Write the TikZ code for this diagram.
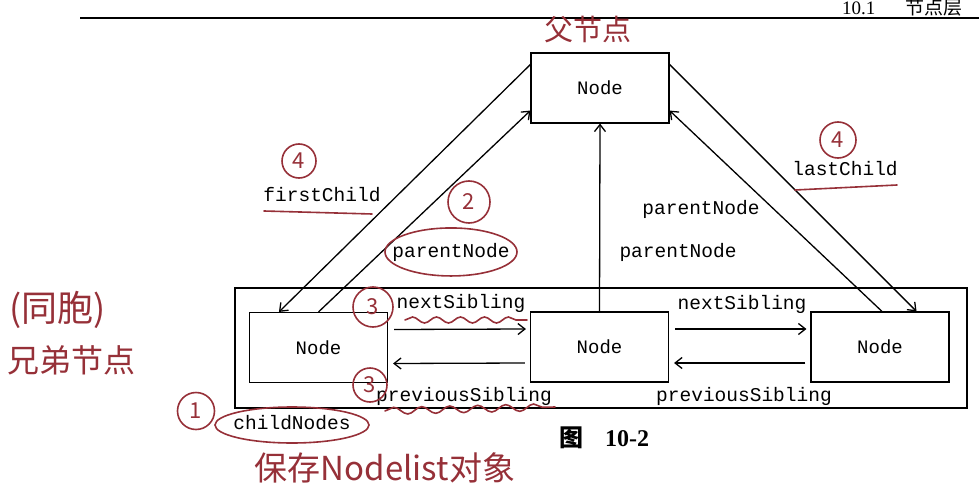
\documentclass[tikz,border=0pt]{standalone}
\usepackage{fontspec}
\setmainfont{Liberation Serif}
\setmonofont{Liberation Mono}
\newfontfamily\cjk{Noto Sans CJK SC}
\usetikzlibrary{arrows.meta,decorations.pathmorphing}
\definecolor{inkred}{RGB}{150,48,56}
\tikzset{
    nodebox/.style={draw,line width=1.1pt,minimum width=138pt,minimum height=70pt,font=\ttfamily\fontsize{19}{22}\selectfont},
    lbl/.style={anchor=base,inner sep=0pt,font=\ttfamily\fontsize{19.5}{22}\selectfont},
    link/.style={line width=1.3pt,-{Straight Barb[length=7pt,width=11pt]}},
    pen/.style={draw=inkred,line width=1.6pt,line cap=round},
    hand/.style={text=inkred,inner sep=0pt},
    numcirc/.style={circle,pen,text=inkred,minimum size=34pt,inner sep=0pt,font=\cjk\fontsize{22}{24}\selectfont}
}
\begin{document}
\begin{tikzpicture}[x=1pt,y=-1pt]
                \useasboundingbox (0,0) rectangle (979,500);
                \draw[line width=1.3pt] (80,18) -- (979,18);
                \node[anchor=base west,inner sep=0pt,font=\fontsize{19}{21}\selectfont] (hdr) at (842,15) {10.1\hspace{30pt}{\cjk 节点层}};
                \node[nodebox] (top) at (600,88) {Node};
                \node[nodebox] (left) at (318.5,347.5) {Node};
                \node[nodebox] (mid) at (599.5,347) {Node};
                \node[nodebox] (right) at (880,347) {Node};
                \draw[line width=2pt] (235,288) rectangle (967,408);
                \draw[link] ([yshift=-12pt]top.north west) -- ([xshift=30pt]left.north west);
                \draw[link] (left.north) -- ([yshift=13pt]top.south west);
                \draw[link] ([yshift=-12pt]top.north east) -- ([xshift=-33pt]right.north east);
                \draw[link] ([xshift=2pt]right.north) -- ([yshift=13pt]top.south east);
                \draw[link] (mid.north) -- (top.south);
                \draw[link] ([shift={(6pt,18pt)}]left.east) -- ([shift={(-4pt,18pt)}]mid.west);
                \draw[link] ([shift={(-5pt,-16pt)}]mid.west) -- ([shift={(5pt,-16pt)}]left.east);
                \draw[link] ([shift={(6pt,18pt)}]mid.east) -- ([shift={(-4pt,18pt)}]right.west);
                \draw[link] ([shift={(-5pt,-16pt)}]right.west) -- ([shift={(5pt,-16pt)}]mid.east);
                \node[lbl] (fc) at (322,201) {firstChild};
                \node[lbl] (pnl) at (451,257) {parentNode};
                \node[lbl] (pnr) at (701,214) {parentNode};
                \node[lbl] (pnm) at (678,257) {parentNode};
                \node[lbl] (lc) at (845,175) {lastChild};
                \node[lbl] (nsl) at (461,308) {nextSibling};
                \node[lbl] (nsr) at (742,309) {nextSibling};
                \node[lbl] (psl) at (464,401) {previousSibling};
                \node[lbl] (psr) at (744,401) {previousSibling};
                \node[lbl] (cn) at (292,429) {childNodes};
                \node[font=\bfseries\fontsize{24}{26}\selectfont] (cap) at (604,438) {{\cjk 图}\hspace{22pt}10-2};
                \node[hand,font=\cjk\fontsize{29}{31}\selectfont] (fu) at (588,30) {父节点};
                \node[hand,font=\cjk\fontsize{36}{38}\selectfont] (tb) at (58,310) {(同胞)};
                \node[hand,font=\cjk\fontsize{32}{34}\selectfont] (xd) at (71,360) {兄弟节点};
                \node[hand,font=\cjk\fontsize{33}{35}\selectfont] (bc) at (385,468) {保存Nodelist对象};
                \node[numcirc] (c4l) at (299,161) {4};
                \node[numcirc,minimum size=42pt] (c2) at (469,202) {2};
                \node[numcirc,minimum size=36pt] (c4r) at (838,140) {4};
                \node[numcirc,minimum size=40pt] (c3a) at (373,307) {3};
                \node[numcirc] (c3b) at (370,385) {3};
                \node[numcirc,minimum size=37pt] (c1) at (196,411) {1};
                \draw[pen] (pnl) ellipse (66pt and 24pt);
                \draw[pen] ([yshift=4pt]cn.base) ellipse (77pt and 18pt);
                \draw[pen] ([shift={(-58pt,-10pt)}]fc.base) -- ([shift={(50pt,-13pt)}]fc.base);
                \draw[pen] ([shift={(-50pt,-15pt)}]lc.base) -- ([shift={(52pt,-10pt)}]lc.base);
                \draw[pen,decorate,decoration={snake,amplitude=3pt,segment length=24pt}] ([shift={(-56pt,-12pt)}]nsl.base) -- ([shift={(66pt,-12pt)}]nsl.base);
                \draw[pen,decorate,decoration={snake,amplitude=3.5pt,segment length=28pt}] ([shift={(-79pt,-10pt)}]psl.base) -- ([shift={(91pt,-6pt)}]psl.base);
            \end{tikzpicture}
\end{document}
